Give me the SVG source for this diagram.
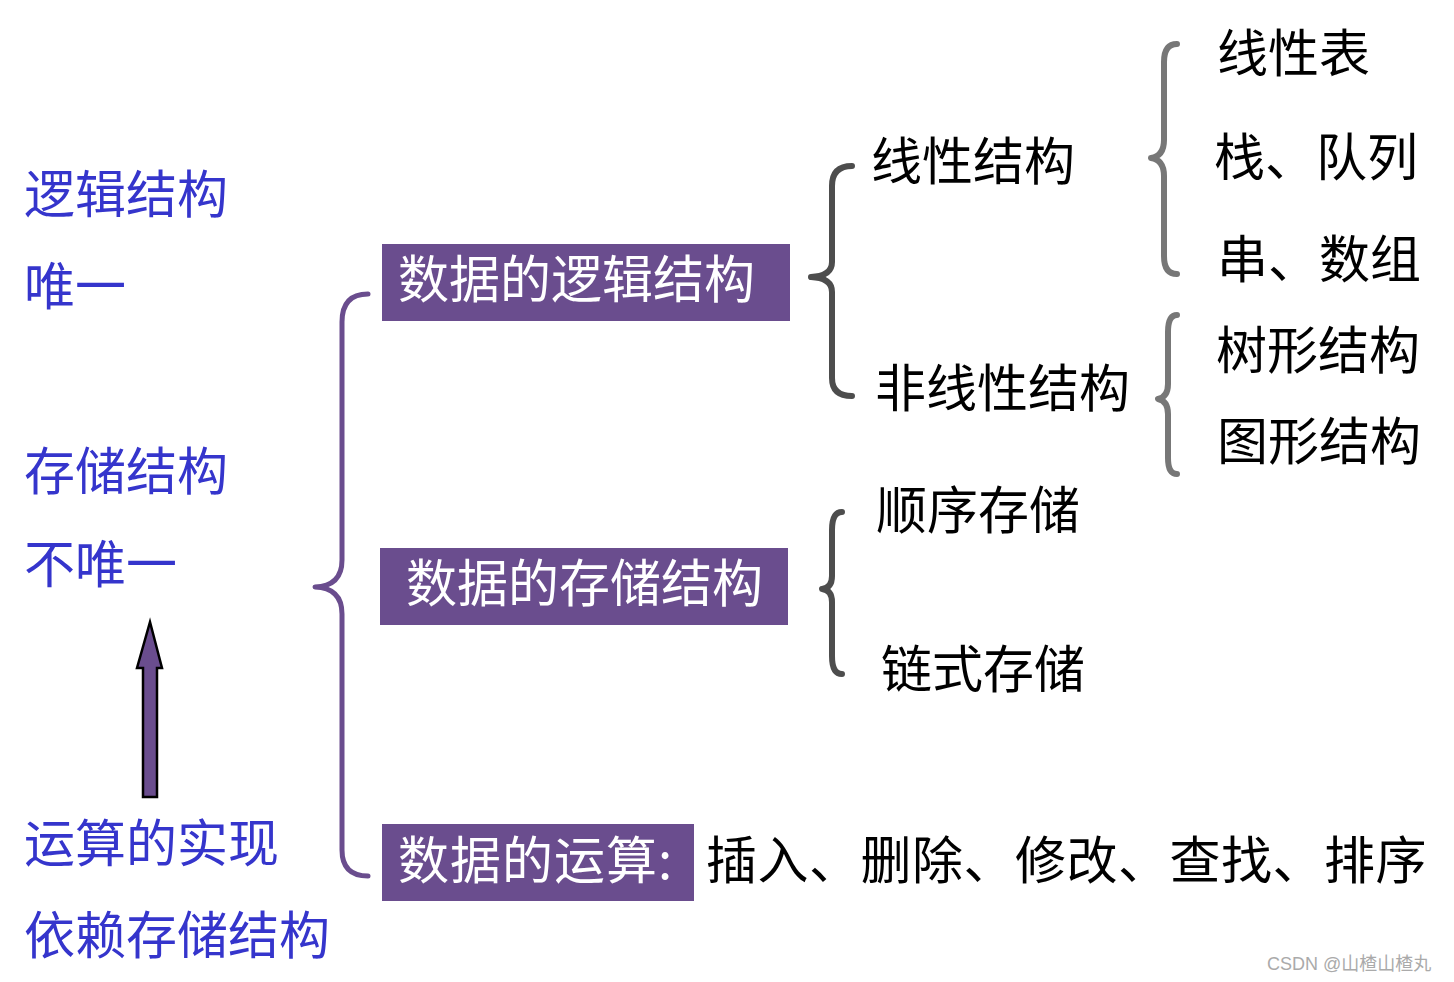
<svg xmlns="http://www.w3.org/2000/svg" width="1454" height="982" viewBox="0 0 1454 982">
<style>
text{font-family:"Noto Sans CJK SC","Noto Sans",sans-serif;font-size:51px}
.blue{fill:#3535CC}
.blk{fill:#000}
.wht{fill:#fff}
.box{fill:#6A4D8E}
.br{fill:none;stroke-linecap:round;stroke-linejoin:round}
.wm{font-family:"Liberation Sans","Noto Sans CJK SC",sans-serif;font-size:18px;fill:#aaa}
</style>
<rect width="1454" height="982" fill="#fff"/>
<g id="left-labels">
<text class="blue" x="24" y="213">逻辑结构</text>
<text class="blue" x="24" y="305">唯一</text>
<text class="blue" x="24" y="490">存储结构</text>
<text class="blue" x="24" y="583">不唯一</text>
<text class="blue" x="24" y="862">运算的实现</text>
<text class="blue" x="24" y="954">依赖存储结构</text>
</g>
<g id="arrow">
<path d="M143,797 L157,797 L157,668 L162,668 L150,622 L137,668 L143,668 Z" fill="#6A4D8E" stroke="#000" stroke-width="2.5" stroke-linejoin="miter"/>
</g>
<g id="connectors">
<path class="br" stroke="#6A4D8E" stroke-width="5" d="M368,294 Q342,294 342,322 L342,560 Q342,586 315,587 Q342,588 342,614 L342,850 Q342,876 368,876"/>
<path class="br" stroke="#4D4D4D" stroke-width="6" d="M852,166 Q832,166 832,186 L832,262 Q832,276 811,277 Q832,278 832,292 L832,378 Q832,396 852,396"/>
<path class="br" stroke="#4D4D4D" stroke-width="6" d="M842,512 Q832,512 832,530 L832,576 Q832,588 822,589 Q832,590 832,602 L832,656 Q832,674 842,674"/>
<path class="br" stroke="#777777" stroke-width="6" d="M1177,44 Q1164,44 1164,62 L1164,140 Q1164,156 1151,158 Q1164,160 1164,176 L1164,256 Q1164,274 1177,274"/>
<path class="br" stroke="#777777" stroke-width="6" d="M1177,315 Q1168,315 1168,332 L1168,384 Q1168,397 1158,399 Q1168,401 1168,414 L1168,458 Q1168,474 1177,474"/>
</g>
<g id="node-logic">
<rect class="box" x="382" y="244" width="408" height="77"/>
<text class="wht" x="398" y="298">数据的逻辑结构</text>
</g>
<g id="node-storage">
<rect class="box" x="380" y="548" width="408" height="77"/>
<text class="wht" x="406" y="602">数据的存储结构</text>
</g>
<g id="node-ops">
<rect class="box" x="382" y="824" width="312" height="77"/>
<text class="wht" x="398" y="879" letter-spacing="1">数据的运算:</text>
<text class="blk" x="706" y="879" letter-spacing="0.5">插入、删除、修改、查找、排序</text>
</g>
<g id="node-linear">
<text class="blk" x="871" y="180">线性结构</text>
</g>
<g id="node-nonlinear">
<text class="blk" x="875" y="407">非线性结构</text>
</g>
<g id="node-seq">
<text class="blk" x="876" y="529">顺序存储</text>
</g>
<g id="node-link">
<text class="blk" x="881" y="688">链式存储</text>
</g>
<g id="node-list"><text class="blk" x="1217" y="72">线性表</text></g>
<g id="node-stack"><text class="blk" x="1214" y="176">栈、队列</text></g>
<g id="node-string"><text class="blk" x="1217" y="278">串、数组</text></g>
<g id="node-tree"><text class="blk" x="1216" y="369">树形结构</text></g>
<g id="node-graph"><text class="blk" x="1217" y="460">图形结构</text></g>
<text class="wm" x="1267" y="970">CSDN @山楂山楂丸</text>
</svg>
